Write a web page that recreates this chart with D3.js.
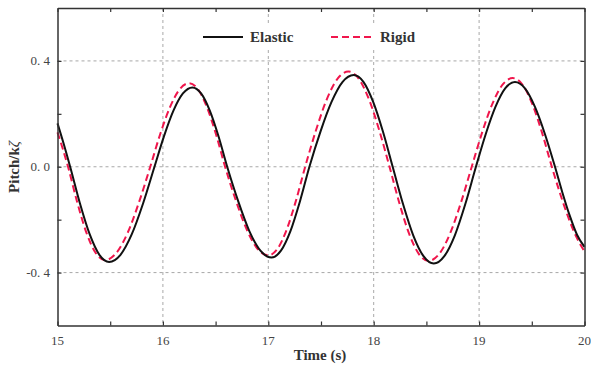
<!DOCTYPE html>
<html><head><meta charset="utf-8">
<script src="https://cdn.jsdelivr.net/npm/d3@7"></script>
<style>
html,body{margin:0;padding:0;background:#fff;}
svg{display:block;}
text{font-family:"Liberation Serif","Times New Roman",serif;}
</style></head>
<body><svg id="chart" width="591" height="367"></svg>
<script>
// ---- data ----
const elasticTime  = [15.00, 15.06, 15.12, 15.2125, 15.305, 15.3975, 15.49, 15.5975, 15.705, 15.8125, 15.92, 16.01, 16.10, 16.19, 16.28, 16.3625, 16.445, 16.5275, 16.61, 16.715, 16.82, 16.925, 17.03, 17.12, 17.21, 17.30, 17.39, 17.495, 17.60, 17.705, 17.81, 17.9025, 17.995, 18.0875, 18.18, 18.2775, 18.375, 18.4725, 18.57, 18.67, 18.77, 18.87, 18.97, 19.0625, 19.155, 19.2475, 19.34, 19.435, 19.53, 19.625, 19.72, 19.79, 19.86, 19.93, 20.00];
const elasticPitch = [0.164, 0.085, 0.0, -0.138, -0.255, -0.333, -0.36, -0.333, -0.255, -0.138, 0.0, 0.115, 0.212, 0.277, 0.30, 0.277, 0.212, 0.115, 0.0, -0.131, -0.243, -0.317, -0.343, -0.317, -0.243, -0.131, 0.0, 0.133, 0.245, 0.321, 0.347, 0.321, 0.245, 0.133, 0.0, -0.140, -0.259, -0.338, -0.366, -0.338, -0.259, -0.140, 0.0, 0.123, 0.226, 0.296, 0.32, 0.296, 0.226, 0.123, 0.0, -0.097, -0.185, -0.258, -0.303];
const rigidTime    = [15.00, 15.05, 15.10, 15.1875, 15.275, 15.3625, 15.45, 15.5575, 15.665, 15.7725, 15.88, 15.9725, 16.065, 16.1575, 16.25, 16.335, 16.42, 16.505, 16.59, 16.6925, 16.795, 16.8975, 17.00, 17.0875, 17.175, 17.2625, 17.35, 17.4525, 17.555, 17.6575, 17.76, 17.8575, 17.955, 18.0525, 18.15, 18.2425, 18.335, 18.4275, 18.52, 18.6225, 18.725, 18.8275, 18.93, 19.0275, 19.125, 19.2225, 19.32, 19.4125, 19.505, 19.5975, 19.69, 19.7675, 19.845, 19.9225, 20.00];
const rigidPitch   = [0.13, 0.068, 0.0, -0.135, -0.25, -0.326, -0.353, -0.326, -0.25, -0.135, 0.0, 0.121, 0.223, 0.292, 0.316, 0.292, 0.223, 0.121, 0.0, -0.128, -0.237, -0.31, -0.335, -0.31, -0.237, -0.128, 0.0, 0.138, 0.255, 0.333, 0.36, 0.333, 0.255, 0.138, 0.0, -0.136, -0.252, -0.329, -0.356, -0.329, -0.252, -0.136, 0.0, 0.128, 0.237, 0.31, 0.335, 0.31, 0.237, 0.128, 0.0, -0.1, -0.19, -0.265, -0.32];
const xTickValues  = [15, 16, 17, 18, 19, 20];
const xMinorTicks  = [15.5, 16.5, 17.5, 18.5, 19.5];
const yTickValues  = [-0.4, 0.0, 0.4];
const yTickLabels  = ["-0. 4", "0. 0", "0. 4"];
const yMinorTicks  = [-0.2, 0.2];
const seriesNames  = ["Elastic", "Rigid"];

// ---- layout ----
const svg = d3.select("#chart");
const L = 57.5, R = 584.5, T = 8, B = 325.5;
const x = d3.scaleLinear().domain([15, 20]).range([L, R]);
const y = d3.scaleLinear().domain([-0.6, 0.6]).range([B, T]);

// grid
const grid = svg.append("g").attr("stroke", "#a8a8a8").attr("stroke-width", 1).attr("stroke-dasharray", "3,3");
xTickValues.filter(v => v > 15 && v < 20).forEach(v => {
  grid.append("line").attr("x1", x(v)).attr("x2", x(v)).attr("y1", T).attr("y2", B);
});
yTickValues.forEach(v => {
  grid.append("line").attr("x1", L).attr("x2", R).attr("y1", y(v)).attr("y2", y(v));
});

// legend background
svg.append("rect").attr("x", 196).attr("y", 23).attr("width", 240).attr("height", 27).attr("fill", "#fff");

// lines
const line = d3.line().curve(d3.curveMonotoneX);
const elasticPts = elasticTime.map((t, i) => [x(t), y(elasticPitch[i])]);
const rigidPts = rigidTime.map((t, i) => [x(t), y(rigidPitch[i])]);
svg.append("path").attr("d", line(rigidPts)).attr("fill", "none").attr("stroke", "#f0164c").attr("stroke-width", 2).attr("stroke-dasharray", "7,4");
svg.append("path").attr("d", line(elasticPts)).attr("fill", "none").attr("stroke", "#111").attr("stroke-width", 2);

// axes (ticks inward, box)
const tickLen = 4;
const axB = svg.append("g").attr("transform", `translate(0,${B})`)
  .call(d3.axisBottom(x).tickValues(xTickValues.concat(xMinorTicks)).tickSizeInner(-tickLen).tickSizeOuter(0).tickFormat(""));
const axT = svg.append("g").attr("transform", `translate(0,${T})`)
  .call(d3.axisTop(x).tickValues(xTickValues.concat(xMinorTicks)).tickSizeInner(-tickLen).tickSizeOuter(0).tickFormat(""));
const axL = svg.append("g").attr("transform", `translate(${L},0)`)
  .call(d3.axisLeft(y).tickValues(yTickValues.concat(yMinorTicks)).tickSizeInner(-tickLen).tickSizeOuter(0).tickFormat(""));
const axR = svg.append("g").attr("transform", `translate(${R},0)`)
  .call(d3.axisRight(y).tickValues(yTickValues.concat(yMinorTicks)).tickSizeInner(-tickLen).tickSizeOuter(0).tickFormat(""));
[axB, axT, axL, axR].forEach(a => {
  a.select(".domain").attr("stroke", "#333").attr("stroke-width", 1.5);
  a.selectAll(".tick line").attr("stroke", "#333").attr("stroke-width", 1.2);
});

// tick labels
svg.append("g").selectAll("text").data(xTickValues).join("text")
  .attr("x", d => x(d)).attr("y", 345).attr("text-anchor", "middle")
  .attr("font-size", 13).attr("fill", "#444").text(d => d);
svg.append("g").selectAll("text").data(yTickValues).join("text")
  .attr("x", 50).attr("y", d => y(d) + 4.5).attr("text-anchor", "end")
  .attr("font-size", 13).attr("fill", "#444").text((d, i) => yTickLabels[i]);

// axis titles
svg.append("text").attr("x", 320).attr("y", 360).attr("text-anchor", "middle")
  .attr("font-size", 15).attr("font-weight", "bold").attr("fill", "#333").text("Time (s)");
const yt = svg.append("text").attr("transform", "translate(19,167) rotate(-90)").attr("text-anchor", "middle")
  .attr("font-size", 15).attr("font-weight", "bold").attr("fill", "#333");
yt.append("tspan").text("Pitch/k");
yt.append("tspan").attr("font-style", "italic").attr("font-weight", "normal").text("ζ");

// legend
svg.append("line").attr("x1", 203).attr("x2", 243).attr("y1", 37).attr("y2", 37).attr("stroke", "#111").attr("stroke-width", 2);
svg.append("text").attr("x", 250).attr("y", 42).attr("font-size", 15).attr("font-weight", "bold").attr("fill", "#333").text(seriesNames[0]);
svg.append("line").attr("x1", 331).attr("x2", 371).attr("y1", 37).attr("y2", 37).attr("stroke", "#f0164c").attr("stroke-width", 2).attr("stroke-dasharray", "7,4");
svg.append("text").attr("x", 380).attr("y", 42).attr("font-size", 15).attr("font-weight", "bold").attr("fill", "#333").text(seriesNames[1]);
</script></body></html>
